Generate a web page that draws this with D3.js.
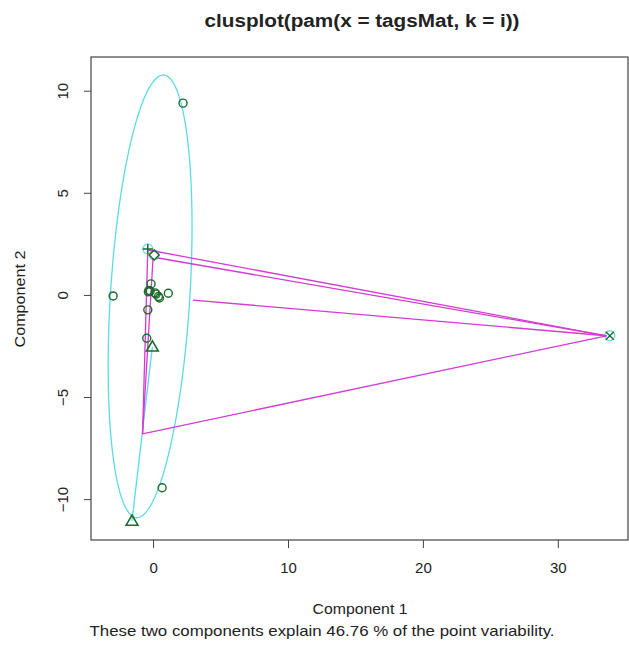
<!DOCTYPE html>
<html>
<head>
<meta charset="utf-8">
<script src="https://cdn.jsdelivr.net/npm/d3@7"></script>
<style>
body{margin:0;background:#fff;}
text{font-family:"Liberation Sans",Arial,sans-serif;fill:#222;}
</style>
</head>
<body>
<script>
// cluster 1 (circles)
var c1_x=[2.22,-2.96,0.67,-0.15,-0.30,-0.22,-0.35,0.15,0.22,0.40,0.47,1.13,-0.39,-0.47]
var c1_y=[9.39,-0.05,-9.44,0.54,0.22,0.18,0.15,0.10,0.04,-0.08,-0.15,0.08,-0.73,-2.12]
// cluster 2 (triangles)
var c2_x=[-1.56,-0.05]
var c2_y=[-11.06,-2.53]
// single point clusters: plus, cross, diamond
var c3_x=[-0.39], c3_y=[2.25]
var c4_x=[33.85], c4_y=[-2.0]
var c5_x=[0.08], c5_y=[1.96]

// big ellipse of cluster 1: centre and conjugate half-axes
var ell_center=[-0.22,-0.07]
var ell_a=[0.98,10.84]
var ell_b=[2.95,0]

// distance lines between the clusters
var seg_x1=[-0.34,0.27,2.96,-0.78,-0.78,-0.78]
var seg_y1=[2.20,1.82,-0.25,-6.80,-6.80,-6.80]
var seg_x2=[33.6,33.6,33.6,33.6,-0.40,0.0]
var seg_y2=[-2.0,-2.0,-2.0,-2.0,2.02,1.80]

var x_ticks=[0,10,20,30]
var y_ticks=[-10,-5,0,5,10]

var W=629,H=648
var mLeft=91,mRight=628,mTop=57,mBottom=540

var svg=d3.select('body').append('svg')
  .attr('width',W).attr('height',H)

var x=d3.scaleLinear().domain([-4.6,35.2]).range([mLeft,mRight])
var y=d3.scaleLinear().domain([-12.0,11.65]).range([mBottom,mTop])

// frame
svg.append('rect')
  .attr('x',mLeft).attr('y',mTop)
  .attr('width',mRight-mLeft).attr('height',mBottom-mTop)
  .attr('fill','none').attr('stroke','#444').attr('stroke-width',1.2)

var xAxis=d3.axisBottom(x).tickValues(x_ticks).tickSize(8).tickPadding(14).tickSizeOuter(0)
var gx=svg.append('g').attr('transform','translate(0,'+mBottom+')').call(xAxis)
gx.select('.domain').remove()
gx.selectAll('line').attr('stroke','#444')
gx.selectAll('text').attr('font-size',15).attr('fill','#222')
  .style('font-family','"Liberation Sans",Arial,sans-serif')

var yAxis=d3.axisLeft(y).tickValues(y_ticks).tickSize(7).tickSizeOuter(0)
var gy=svg.append('g').attr('transform','translate('+mLeft+',0)').call(yAxis)
gy.select('.domain').remove()
gy.selectAll('line').attr('stroke','#444')
gy.selectAll('text')
  .attr('font-size',15).attr('fill','#222')
  .style('font-family','"Liberation Sans",Arial,sans-serif')
  .attr('text-anchor','middle')
  .attr('x',0).attr('dy',0)
  .attr('transform','translate(-28,0) rotate(-90)')
  .attr('y',5)

// ellipse of cluster 1
var ts=d3.range(0,361,3).map(function(d){return d*Math.PI/180})
var ellLine=d3.line()
  .x(function(t){return x(ell_center[0]+ell_a[0]*Math.cos(t)+ell_b[0]*Math.sin(t))})
  .y(function(t){return y(ell_center[1]+ell_a[1]*Math.cos(t)+ell_b[1]*Math.sin(t))})
svg.append('path').attr('d',ellLine(ts))
  .attr('fill','none').attr('stroke','#5adce5').attr('stroke-width',1.3)

// degenerate ellipse of the two-point cluster
svg.append('line')
  .attr('x1',x(c2_x[0])).attr('y1',y(c2_y[0]))
  .attr('x2',x(c2_x[1])).attr('y2',y(c2_y[1]))
  .attr('stroke','#5adce5').attr('stroke-width',1.3)

// tiny ellipses of single point clusters
var singles=[[c3_x[0],c3_y[0]],[c4_x[0],c4_y[0]],[c5_x[0],c5_y[0]]]
svg.selectAll('circle.tiny').data(singles).enter().append('circle')
  .attr('class','tiny')
  .attr('cx',function(d){return x(d[0])})
  .attr('cy',function(d){return y(d[1])})
  .attr('r',5)
  .attr('fill','none').attr('stroke','#6fdde6').attr('stroke-width',1.3)

// distance lines
svg.selectAll('line.seg').data(seg_x1).enter().append('line')
  .attr('class','seg')
  .attr('x1',function(d){return x(d)})
  .attr('y1',function(d,i){return y(seg_y1[i])})
  .attr('x2',function(d,i){return x(seg_x2[i])})
  .attr('y2',function(d,i){return y(seg_y2[i])})
  .attr('stroke','#d43ad4').attr('stroke-width',1.3)

var pcol='#1d6a2a'
// points
svg.selectAll('circle.p').data(c1_x).enter().append('circle')
  .attr('class','p')
  .attr('cx',function(d){return x(d)})
  .attr('cy',function(d,i){return y(c1_y[i])})
  .attr('r',4)
  .attr('fill','none').attr('stroke',pcol).attr('stroke-width',1.4)

var tri=d3.symbol().type(d3.symbolTriangle).size(60)
svg.selectAll('path.tri').data(c2_x).enter().append('path')
  .attr('class','tri')
  .attr('d',tri)
  .attr('transform',function(d,i){return 'translate('+x(d)+','+(y(c2_y[i])+1)+')'})
  .attr('fill','none').attr('stroke',pcol).attr('stroke-width',1.6)

svg.selectAll('path.plus').data(c3_x).enter().append('path')
  .attr('class','plus')
  .attr('d','M-5,0H5M0,-5V5')
  .attr('transform',function(d,i){return 'translate('+x(d)+','+y(c3_y[i])+')'})
  .attr('fill','none').attr('stroke',pcol).attr('stroke-width',1.5)

svg.selectAll('path.cross').data(c4_x).enter().append('path')
  .attr('class','cross')
  .attr('d','M-4,-4L4,4M-4,4L4,-4')
  .attr('transform',function(d,i){return 'translate('+x(d)+','+y(c4_y[i])+')'})
  .attr('fill','none').attr('stroke',pcol).attr('stroke-width',1.4)

svg.selectAll('path.dia').data(c5_x).enter().append('path')
  .attr('class','dia')
  .attr('d','M0,-5L5,0L0,5L-5,0Z')
  .attr('transform',function(d,i){return 'translate('+x(d)+','+y(c5_y[i])+')'})
  .attr('fill','none').attr('stroke',pcol).attr('stroke-width',1.4)

// texts
svg.append('text').attr('x',362).attr('y',27)
  .attr('text-anchor','middle').attr('font-size',18).attr('font-weight','bold')
  .attr('textLength',315).attr('lengthAdjust','spacingAndGlyphs')
  .text('clusplot(pam(x = tagsMat, k = i))')

svg.append('text').attr('x',360).attr('y',614)
  .attr('text-anchor','middle').attr('font-size',15)
  .attr('textLength',95).attr('lengthAdjust','spacingAndGlyphs')
  .text('Component 1')

svg.append('text').attr('x',322).attr('y',636)
  .attr('text-anchor','middle').attr('font-size',15)
  .attr('textLength',465).attr('lengthAdjust','spacingAndGlyphs')
  .text('These two components explain 46.76 % of the point variability.')

svg.append('text')
  .attr('transform','translate(25,299) rotate(-90)')
  .attr('text-anchor','middle').attr('font-size',15)
  .attr('textLength',97).attr('lengthAdjust','spacingAndGlyphs')
  .text('Component 2')
</script>
</body>
</html>
